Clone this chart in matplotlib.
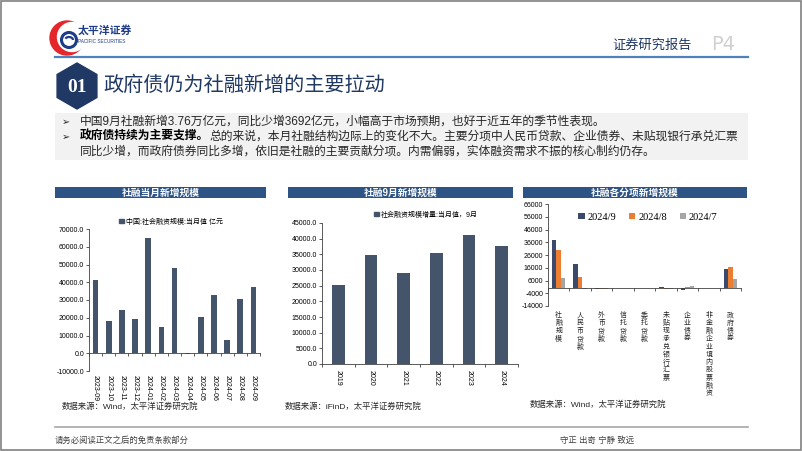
import matplotlib
matplotlib.use('Agg')
import matplotlib.pyplot as plt
import matplotlib.transforms as mtransforms
from matplotlib.patches import Rectangle, Circle, RegularPolygon, Arc
from matplotlib.ticker import FixedLocator, FuncFormatter, NullFormatter
import numpy as np

plt.rcParams['font.family'] = ['Liberation Sans', 'Noto Sans CJK SC', 'DejaVu Sans']
plt.rcParams['axes.unicode_minus'] = False

# ---- data ----
months = ['2023-09', '2023-10', '2023-11', '2023-12', '2024-01', '2024-02', '2024-03',
          '2024-04', '2024-05', '2024-06', '2024-07', '2024-08', '2024-09']
monthly_tsf = [41300, 18400, 24500, 19300, 64700, 15000, 48300,
               -660, 20600, 33000, 7700, 30300, 37600]

years = ['2019', '2020', '2021', '2022', '2023', '2024']
sept_tsf = [25100, 34700, 29000, 35300, 41300, 37600]

items = ['社融规模', '人民币贷款', '外币贷款', '信托贷款', '委托贷款',
         '未贴现承兑银行汇票', '企业债券', '非金融企业境内股票融资', '政府债券']
item_series = ['2024/9', '2024/8', '2024/7']
item_sep = [37600, 19000, -300, 100, 200, 1200, -1700, 200, 15300]
item_aug = [30300, 9000, -400, 200, -100, -300, 1000, 150, 16200]
item_jul = [7700, -800, -300, 100, 100, -700, 1300, 100, 6900]

W, H = 802, 451
NAVY = '#44546A'
BAR_BLUE = '#2E5486'


def fx(x):
    return x / W


def fy(y):
    return 1 - y / H


fig = plt.figure(figsize=(W / 100, H / 100), dpi=100)

# background canvas in pixel coordinates
bg = fig.add_axes([0, 0, 1, 1])
bg.set_xlim(0, W)
bg.set_ylim(H, 0)
bg.axis('off')

# frame
bg.add_patch(Rectangle((0.5, 0.5), W - 1.5, H - 1.5, fill=False, ec='#808080', lw=1.2))

# logo
bg.add_patch(Circle((67, 38), 17, color='#E5262B'))
bg.add_patch(Circle((72, 37), 14.5, color='white'))
bg.add_patch(Circle((69, 40), 7.5, fill=False, ec='#1F3C88', lw=2.2))
bg.add_patch(Arc((69, 40), 8, 6, theta1=200, theta2=360, color='#1F3C88', lw=1.6))
bg.text(78, 31, '太平洋证券', fontsize=7.8, fontweight='bold', color='#1F3C88', va='center')
bg.text(78, 41.5, 'PACIFIC SECURITIES', fontsize=3.4, color='#1F3C88', va='center')

# header
bg.text(612, 45, '证券研究报告', fontsize=9.5, color='#1F3864', va='center')
bg.text(711, 45, 'P4', fontsize=14, color='#D0D0D0', va='center', family='Liberation Sans Narrow')
bg.plot([55, 748], [56.5, 56.5], color='#4F81BD', lw=1.6)

# section title
bg.add_patch(RegularPolygon((77, 86), 6, radius=23, orientation=0, color='#1F3864'))
bg.text(77, 87, '01', fontsize=14, fontweight='bold', color='white', ha='center', va='center',
        family='Liberation Serif')
bg.text(103, 85, '政府债仍为社融新增的主要拉动', fontsize=14.5, color='#1F3864', va='center')

# text box
bg.add_patch(Rectangle((55, 113), 693, 47, color='#F2F2F2', lw=0))
body_fs = 8.5
bg.text(62, 122, '➢', fontsize=7, va='center', family='DejaVu Sans', color='#262626')
bg.text(62, 137, '➢', fontsize=7, va='center', family='DejaVu Sans', color='#262626')
bg.text(80, 122, '中国9月社融新增3.76万亿元，同比少增3692亿元，小幅高于市场预期，也好于近五年的季节性表现。',
        fontsize=body_fs, va='center', color='#262626')
t_bold = fig.text(fx(80), fy(137), '政府债持续为主要支撑。', fontsize=body_fs, va='center',
                  color='#000000', fontweight='bold')
renderer = fig.canvas.get_renderer()
bb = t_bold.get_window_extent(renderer)
fig.text(bb.x1 / W, fy(137), '总的来说，本月社融结构边际上的变化不大。主要分项中人民币贷款、企业债券、未贴现银行承兑汇票',
         fontsize=body_fs, va='center', color='#262626')
bg.text(80, 152, '同比少增，而政府债券同比多增，依旧是社融的主要贡献分项。内需偏弱，实体融资需求不振的核心制约仍存。',
        fontsize=body_fs, va='center', color='#262626')

# chart title bars
for x0, x1, title in [(55, 266, '社融当月新增规模'), (288, 513, '社融9月新增规模'),
                      (523, 747, '社融各分项新增规模')]:
    bg.add_patch(Rectangle((x0, 187), x1 - x0, 11, color=BAR_BLUE, lw=0))
    bg.text((x0 + x1) / 2, 192.5, title, fontsize=7, fontweight='bold', color='white',
            ha='center', va='center')

# sources
bg.text(62, 407, '数据来源：Wind，太平洋证券研究院', fontsize=6, va='center', color='#262626')
bg.text(285, 407, '数据来源：iFinD，太平洋证券研究院', fontsize=6, va='center', color='#262626')
bg.text(530, 405, '数据来源：Wind，太平洋证券研究院', fontsize=6, va='center', color='#262626')

# footer
bg.plot([55, 748], [427, 427], color='#A6A6A6', lw=1.2)
bg.text(55, 441, '请务必阅读正文之后的免责条款部分', fontsize=6, va='center', color='#404040')
bg.text(560, 441, '守正 出奇 宁静 致远', fontsize=6, va='center', color='#404040')


def style_axis(ax):
    for s in ['top', 'right']:
        ax.spines[s].set_visible(False)
    for s in ['left', 'bottom']:
        ax.spines[s].set_color('#404040')
        ax.spines[s].set_linewidth(0.6)
    ax.tick_params(axis='y', labelsize=5, length=2, width=0.6, pad=1.5, color='#404040')
    ax.set_facecolor('none')


# ---- chart 1 ----
ax1 = fig.add_axes([fx(89), fy(371), fx(260) - fx(89), fy(229) - fy(371)])
x1 = np.arange(len(months))
ax1.bar(x1, monthly_tsf, width=0.43, color=NAVY)
ax1.set_xlim(-0.5, len(months) - 0.5)
ax1.set_ylim(-10000, 70000)
ax1.set_yticks(np.arange(-10000, 70001, 10000))
ax1.yaxis.set_major_formatter(FuncFormatter(lambda v, p: f'{v:.1f}'))
style_axis(ax1)
ax1.spines['bottom'].set_position(('data', 0))
ax1.set_xticks(x1)
ax1.set_xticklabels(months, rotation=-90, fontsize=5)
ax1.tick_params(axis='x', which='major', length=0, pad=16)
ax1.xaxis.set_minor_locator(FixedLocator(np.arange(-0.5, len(months), 1)))
ax1.tick_params(axis='x', which='minor', length=2, width=0.6, color='#404040')
ax1.legend([Rectangle((0, 0), 1, 1, color=NAVY)], ['中国:社会融资规模:当月值 亿元'],
           loc='center', bbox_to_anchor=(fx(171), fy(222)), bbox_transform=fig.transFigure,
           frameon=False, fontsize=5, handlelength=0.6, handleheight=0.6, handletextpad=0.3)

# ---- chart 2 ----
ax2 = fig.add_axes([fx(322), fy(364), fx(518) - fx(322), fy(223) - fy(364)])
x2 = np.arange(len(years))
ax2.bar(x2, sept_tsf, width=0.38, color=NAVY)
ax2.set_xlim(-0.5, len(years) - 0.5)
ax2.set_ylim(0, 45000)
ax2.set_yticks(np.arange(0, 45001, 5000))
ax2.yaxis.set_major_formatter(FuncFormatter(lambda v, p: f'{v:.1f}'))
style_axis(ax2)
ax2.set_xticks(x2)
ax2.set_xticklabels(years, rotation=-90, fontsize=5)
ax2.tick_params(axis='x', which='major', length=0, pad=4)
ax2.xaxis.set_minor_locator(FixedLocator(np.arange(-0.5, len(years), 1)))
ax2.tick_params(axis='x', which='minor', length=2, width=0.6, color='#404040')
ax2.legend([Rectangle((0, 0), 1, 1, color=NAVY)], ['社会融资规模增量:当月值，9月'],
           loc='center', bbox_to_anchor=(fx(426), fy(215)), bbox_transform=fig.transFigure,
           frameon=False, fontsize=5, handlelength=0.6, handleheight=0.6, handletextpad=0.3)

# ---- chart 3 ----
ax3 = fig.add_axes([fx(548), fy(306), fx(741) - fx(548), fy(204) - fy(306)])
x3 = np.arange(len(items))
bw = 0.21
colors3 = ['#3B4A6B', '#ED7D31', '#A5A5A5']
for k, (vals, c) in enumerate(zip([item_sep, item_aug, item_jul], colors3)):
    ax3.bar(x3 + (k - 1) * bw, vals, width=bw, color=c, label=item_series[k])
ax3.set_xlim(-0.5, len(items) - 0.5)
ax3.set_ylim(-14000, 66000)
ax3.set_yticks(np.arange(-14000, 66001, 10000))
style_axis(ax3)
ax3.spines['bottom'].set_position(('data', 0))
ax3.set_xticks(x3)
ax3.xaxis.set_major_formatter(NullFormatter())
ax3.tick_params(axis='x', which='major', length=0)
ax3.xaxis.set_minor_locator(FixedLocator(np.arange(-0.5, len(items), 1)))
ax3.tick_params(axis='x', which='minor', length=2, width=0.6, color='#404040')
# vertical (stacked) category labels
lab_tr = mtransforms.blended_transform_factory(ax3.transData, fig.transFigure)
for xi, name in zip(x3, items):
    for j, ch in enumerate(name):
        fig.text(xi, fy(316 + j * 7.8), ch, transform=lab_tr, fontsize=5, ha='center',
                 va='center', color='#262626')
ax3.legend(loc='center', bbox_to_anchor=(fx(648), fy(217)), bbox_transform=fig.transFigure,
           ncol=3, frameon=False, prop={'family': 'Liberation Serif', 'size': 7.5},
           handlelength=0.6, handleheight=0.6, handletextpad=0.3, columnspacing=1.2)

fig.savefig('out.png', dpi=100)
